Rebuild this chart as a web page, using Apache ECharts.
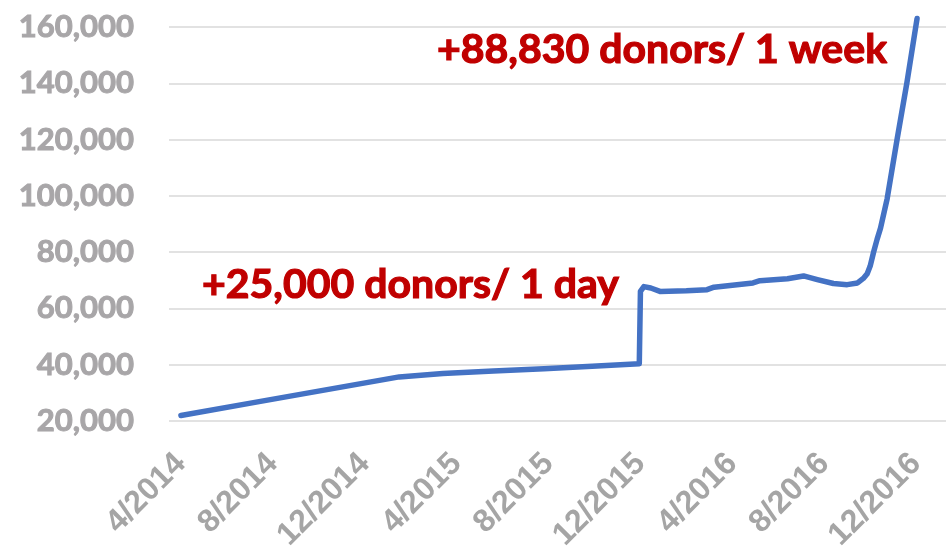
<!DOCTYPE html>
<html>
<head>
<meta charset="utf-8">
<title>Donors</title>
<script src="https://cdn.jsdelivr.net/npm/echarts@6/dist/echarts.min.js"></script>
<style>
  html, body { margin: 0; padding: 0; background: #fff; }
  #main { width: 946px; height: 554px; }
</style>
</head>
<body>
<div id="main"></div>
<script>
// tick labels, one every 4 months starting 4/2014
var tickLabels = ['4/2014', '8/2014', '12/2014', '4/2015', '8/2015', '12/2015', '4/2016', '8/2016', '12/2016'];
var tickMonths = [0, 4, 8, 12, 16, 20, 24, 28, 32];

// months since 4/2014
var monthOffset = [0, 3.4, 9.5, 11.4, 13.6, 15.8, 17.9, 19.95,
	20.0, 20.15, 20.45, 20.85, 22.0, 22.9, 23.2, 24.9, 25.2, 26.4, 27.1, 27.7,
	28.4, 29.0, 29.45, 29.7, 29.87, 30.0, 30.15, 30.3, 30.45, 30.74, 31.17, 31.6, 32.04];
// number of donors
var donors = [21900, 26800, 35600, 36800, 37700, 38500, 39400, 40300,
	66000, 67700, 67200, 66000, 66200, 66600, 67500, 69000, 69800, 70500, 71500, 70200,
	68800, 68400, 69000, 70600, 72300, 75000, 80000, 84500, 88500, 99000, 120000, 140300, 163000];

var notes = ['+88,830 donors/ 1 week', '+25,000 donors/ 1 day'];

var seriesData = [];
for (var i = 0; i < monthOffset.length; i++) {
	seriesData.push([monthOffset[i], donors[i]]);
}

var myChart = echarts.init(document.getElementById('main'));
var option = {
	animation: false,
	grid: {
		left: 169,
		right: 0,
		top: 27,
		bottom: 130
	},
	xAxis: {
		type: 'value',
		min: -0.52,
		max: 33.3,
		axisLine: { show: false },
		axisTick: { show: false },
		splitLine: { show: false },
		axisLabel: {
			customValues: tickMonths,
			rotate: 45,
			margin: 38,
			color: '#a5a5a5',
			fontFamily: 'Liberation Sans',
			fontWeight: 'bold',
			fontSize: 32,
			formatter: function (val) {
				var idx = tickMonths.indexOf(Math.round(val));
				return idx > -1 ? tickLabels[idx] : '';
			}
		}
	},
	yAxis: {
		type: 'value',
		min: 20000,
		max: 160000,
		interval: 20000,
		axisLine: { show: false },
		axisTick: { show: false },
		splitLine: { lineStyle: { color: '#d9d9d9', width: 1.5 } },
		axisLabel: {
			margin: 35,
			color: '#a8a6a8',
			fontFamily: 'Lato',
			fontWeight: 'bold',
			fontSize: 31,
			textBorderColor: '#a8a6a8',
			textBorderWidth: 1,
			formatter: function (val) {
				return val.toString().replace(/\B(?=(\d{3})+(?!\d))/g, ',');
			}
		}
	},
	series: [{
		type: 'line',
		data: seriesData,
		showSymbol: false,
		clip: false,
		smooth: false,
		lineStyle: { color: '#4472c4', width: 5.5, cap: 'round', join: 'round' }
	}],
	graphic: [{
		type: 'text',
		x: 437,
		y: 50,
		style: {
			text: notes[0],
			fill: '#c00000',
			stroke: '#c00000',
			lineWidth: 1.2,
			font: 'bold 41px Lato',
			align: 'left',
			verticalAlign: 'middle'
		}
	}, {
		type: 'text',
		x: 202,
		y: 285,
		style: {
			text: notes[1],
			fill: '#c00000',
			stroke: '#c00000',
			lineWidth: 1.2,
			font: 'bold 41px Lato',
			align: 'left',
			verticalAlign: 'middle'
		}
	}]
};
myChart.setOption(option);
</script>
</body>
</html>
